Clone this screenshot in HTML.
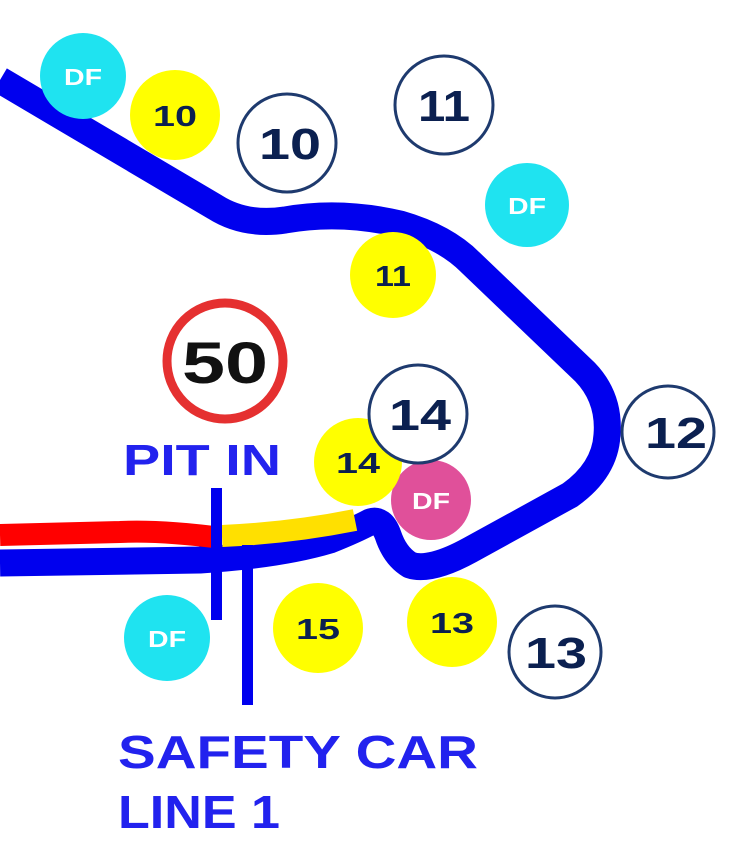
<!DOCTYPE html>
<html><head><style>
body{margin:0;background:#fff;}
svg{display:block}
text{font-family:"Liberation Sans",sans-serif;font-weight:bold;text-anchor:middle;}
</style></head><body>
<svg width="737" height="844" viewBox="0 0 737 844">
<path d="M0,80 L215,207 Q245,226 285,220 Q340,210 400,224 Q445,237 470,262 L585,372 Q610,398 607,435 Q605,470 570,495 L470,550 Q430,572 410,565 Q395,556 388,535 Q382,518 370,522 Q355,530 330,540 Q280,555 200,560 L0,563" fill="none" stroke="#0000ee" stroke-width="27" stroke-linejoin="round"/>
<path d="M0,535 L120,532 Q160,530 222,538" fill="none" stroke="#ff0000" stroke-width="22"/>
<path d="M222,536 Q290,533 355,520" fill="none" stroke="#ffe000" stroke-width="22"/>
<rect x="211" y="488" width="11" height="132" fill="#0000ee"/>
<rect x="242" y="545" width="11" height="160" fill="#0000ee"/>
<circle cx="225" cy="361" r="58" fill="#fff" stroke="#e53030" stroke-width="9"/>
<text x="225" y="383" font-size="58" fill="#111" textLength="86" lengthAdjust="spacingAndGlyphs">50</text>
<g fill="#1fe3f0"><circle cx="83" cy="76" r="43"/><circle cx="527" cy="205" r="42"/><circle cx="167" cy="638" r="43"/></g>
<g fill="#fff" font-size="23"><text x="83" y="85" textLength="38" lengthAdjust="spacingAndGlyphs">DF</text><text x="527" y="214" textLength="38" lengthAdjust="spacingAndGlyphs">DF</text><text x="167" y="647" textLength="38" lengthAdjust="spacingAndGlyphs">DF</text></g>
<circle cx="431" cy="500" r="40" fill="#e0509a"/>
<text x="431" y="509" font-size="23" fill="#fff" textLength="38" lengthAdjust="spacingAndGlyphs">DF</text>
<g fill="#ffff00"><circle cx="175" cy="115" r="45"/><circle cx="393" cy="275" r="43"/><circle cx="358" cy="462" r="44"/><circle cx="318" cy="628" r="45"/><circle cx="452" cy="622" r="45"/></g>
<g fill="#0b2050" font-size="29"><text x="175" y="126" textLength="44" lengthAdjust="spacingAndGlyphs">10</text><text x="393" y="286" textLength="36" lengthAdjust="spacingAndGlyphs">11</text><text x="358" y="473" textLength="44" lengthAdjust="spacingAndGlyphs">14</text><text x="318" y="639" textLength="44" lengthAdjust="spacingAndGlyphs">15</text><text x="452" y="633" textLength="44" lengthAdjust="spacingAndGlyphs">13</text></g>
<g fill="#fff" stroke="#1e3a6e" stroke-width="3"><circle cx="287" cy="143" r="49"/><circle cx="444" cy="105" r="49"/><circle cx="418" cy="414" r="49"/><circle cx="668" cy="432" r="46"/><circle cx="555" cy="652" r="46"/></g>
<g fill="#0b2050" font-size="44"><text x="290" y="159" textLength="62" lengthAdjust="spacingAndGlyphs">10</text><text x="444" y="121" textLength="52" lengthAdjust="spacingAndGlyphs">11</text><text x="420" y="430" textLength="62" lengthAdjust="spacingAndGlyphs">14</text><text x="676" y="448" textLength="62" lengthAdjust="spacingAndGlyphs">12</text><text x="556" y="668" textLength="62" lengthAdjust="spacingAndGlyphs">13</text></g>
<text x="202" y="475" font-size="44" fill="#2222ee" textLength="158" lengthAdjust="spacingAndGlyphs">PIT IN</text>
<text x="118" y="768" font-size="46" fill="#2222ee" style="text-anchor:start" textLength="360" lengthAdjust="spacingAndGlyphs">SAFETY CAR</text>
<text x="118" y="828" font-size="46" fill="#2222ee" style="text-anchor:start" textLength="162" lengthAdjust="spacingAndGlyphs">LINE 1</text>
</svg>
</body></html>
